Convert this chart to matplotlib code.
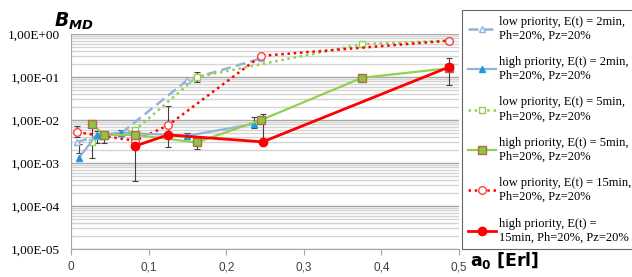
import matplotlib
matplotlib.use("Agg")
import matplotlib.pyplot as plt
from matplotlib.ticker import LogLocator, NullFormatter, FixedLocator, FixedFormatter
import numpy as np

# data (log scale y)
low2_x = [0.008, 0.035, 0.065, 0.15, 0.245]
low2_y = [3.1e-3, 4.2e-3, 5.0e-3, 0.085, 0.27]
high2_x = [0.01, 0.033, 0.064, 0.15, 0.236]
high2_y = [1.3e-3, 4.5e-3, 5.1e-3, 4.3e-3, 8.1e-3]
low5_x = [0.0275, 0.042, 0.083, 0.162, 0.375, 0.487]
low5_y = [3.0e-3, 4.2e-3, 5.9e-3, 0.10, 0.58, 0.70]
high5_x = [0.0275, 0.042, 0.083, 0.162, 0.245, 0.375, 0.487]
high5_y = [8.1e-3, 4.5e-3, 4.5e-3, 3.0e-3, 1.0e-2, 0.096, 0.16]
low15_x = [0.008, 0.083, 0.125, 0.245, 0.487]
low15_y = [5.2e-3, 3.3e-3, 7.5e-3, 0.31, 0.70]
high15_x = [0.083, 0.125, 0.247, 0.487]
high15_y = [2.5e-3, 4.5e-3, 3.1e-3, 0.17]

# error bars: x, centre, low end, high end
err_x = [0.008, 0.01, 0.0275, 0.033, 0.042, 0.064, 0.083, 0.125, 0.15, 0.162, 0.162, 0.236, 0.247, 0.375, 0.487, 0.487]
err_y = [5.2e-3, 2.6e-3, 3.0e-3, 4.5e-3, 4.2e-3, 5.1e-3, 2.5e-3, 4.5e-3, 4.3e-3, 3.0e-3, 0.10, 8.1e-3, 3.1e-3, 0.58, 0.17, 0.70]
err_lo = [4.0e-3, 1.7e-3, 1.3e-3, 2.9e-3, 2.9e-3, 4.2e-3, 3.8e-4, 2.3e-3, 3.7e-3, 2.1e-3, 0.078, 6.4e-3, 3.1e-3, 0.52, 0.065, 0.64]
err_hi = [7.2e-3, 2.8e-3, 8.0e-3, 5.6e-3, 4.6e-3, 5.8e-3, 6.5e-3, 0.021, 5.1e-3, 3.0e-3, 0.128, 0.0116, 0.014, 0.64, 0.27, 0.76]

labels = ["low priority, E(t) = 2min,\nPh=20%, Pz=20%",
          "high priority, E(t) = 2min,\nPh=20%, Pz=20%",
          "low priority, E(t) = 5min,\nPh=20%, Pz=20%",
          "high priority, E(t) = 5min,\nPh=20%, Pz=20%",
          "low priority, E(t) = 15min,\nPh=20%, Pz=20%",
          "high priority, E(t) =\n15min, Ph=20%, Pz=20%"]
ytick_vals = [1e-5, 1e-4, 1e-3, 1e-2, 1e-1, 1e0]
ytick_labels = ["1,00E-05", "1,00E-04", "1,00E-03", "1,00E-02", "1,00E-01", "1,00E+00"]
xtick_vals = [0, 0.1, 0.2, 0.3, 0.4, 0.5]
xtick_labels = ["0", "0,1", "0,2", "0,3", "0,4", "0,5"]

fig = plt.figure(figsize=(6.32, 2.77), dpi=100)
ax = fig.add_axes([71 / 632, 28 / 277, 388 / 632, 215 / 277])

ax.set_yscale("log")
ax.set_ylim(1e-5, 1)
ax.set_xlim(0, 0.5)

# grid
ax.yaxis.set_minor_locator(LogLocator(base=10, subs=np.arange(2, 10)))
ax.yaxis.set_minor_formatter(NullFormatter())
ax.grid(True, which="major", axis="y", color="#a6a6a6", lw=1.0)
ax.grid(True, which="minor", axis="y", color="#d4d4d4", lw=1.0)
ax.set_axisbelow(True)

ax.errorbar(err_x, err_y, yerr=[np.array(err_y) - np.array(err_lo), np.array(err_hi) - np.array(err_y)],
            fmt="none", ecolor="#404040", elinewidth=0.8, capsize=2.2, capthick=0.8, zorder=2)

ax.plot(low2_x, low2_y, ls=(0, (4, 2)), color="#95b3d7", lw=1.8, marker="^", ms=5,
        mfc="white", mec="#8eb4e3", label=labels[0], zorder=3)
ax.plot(high2_x, high2_y, ls="-", color="#95b3d7", lw=1.6, marker="^", ms=5,
        mfc="#1e9be0", mec="#1e9be0", label=labels[1], zorder=4)
ax.plot(low5_x, low5_y, ls=(0, (1, 1.5)), color="#92d050", lw=1.8, marker="s", ms=5,
        mfc="white", mec="#92d050", label=labels[2], zorder=3)
ax.plot(high5_x, high5_y, ls="-", color="#92d050", lw=1.6, marker="s", ms=5.5,
        mfc="#8cc63f", mec="#b06a50", label=labels[3], zorder=4)
ax.plot(low15_x, low15_y, ls=(0, (1, 1.5)), color="#ff0000", lw=1.8, marker="o", ms=5.5,
        mfc="white", mec="#ff4040", label=labels[4], zorder=3)
ax.plot(high15_x, high15_y, ls="-", color="#ff0000", lw=2.0, marker="o", ms=6,
        mfc="#ff0000", mec="#ff0000", label=labels[5], zorder=5)

ax.yaxis.set_major_locator(FixedLocator(ytick_vals))
ax.yaxis.set_major_formatter(FixedFormatter(ytick_labels))
ax.xaxis.set_major_locator(FixedLocator(xtick_vals))
ax.xaxis.set_major_formatter(FixedFormatter(xtick_labels))
for t in ax.get_yticklabels():
    t.set_fontfamily("Liberation Serif")
    t.set_fontsize(9.5)
for t in ax.get_xticklabels():
    t.set_fontfamily("Liberation Sans")
    t.set_fontsize(8.5)
    t.set_color("#404040")
ax.tick_params(axis="y", which="both", length=0, pad=8)
ax.tick_params(axis="x", length=4, direction="out", color="#a6a6a6", pad=5)

for s in ["top", "right"]:
    ax.spines[s].set_visible(False)
for s in ["left", "bottom"]:
    ax.spines[s].set_color("#a6a6a6")

fig.text(54 / 632, 1 - 27 / 277, r"$\mathbfit{B}_{\mathbfit{MD}}$", fontsize=13.5, va="baseline")
fig.text(470 / 632, 1 - 266 / 277, r"$\mathbf{a_0\ [Erl]}$", fontsize=12.5, va="baseline")

leg = fig.legend(loc="upper left", bbox_to_anchor=(462 / 632, 1 - 10 / 277),
                 prop={"family": "Liberation Serif", "size": 9}, frameon=True, fancybox=False,
                 edgecolor="#404040", handlelength=2.3, handletextpad=0.2, labelspacing=1.17,
                 borderpad=0.45, borderaxespad=0)
leg.get_frame().set_linewidth(0.8)

plt.savefig("out.png", dpi=100)
